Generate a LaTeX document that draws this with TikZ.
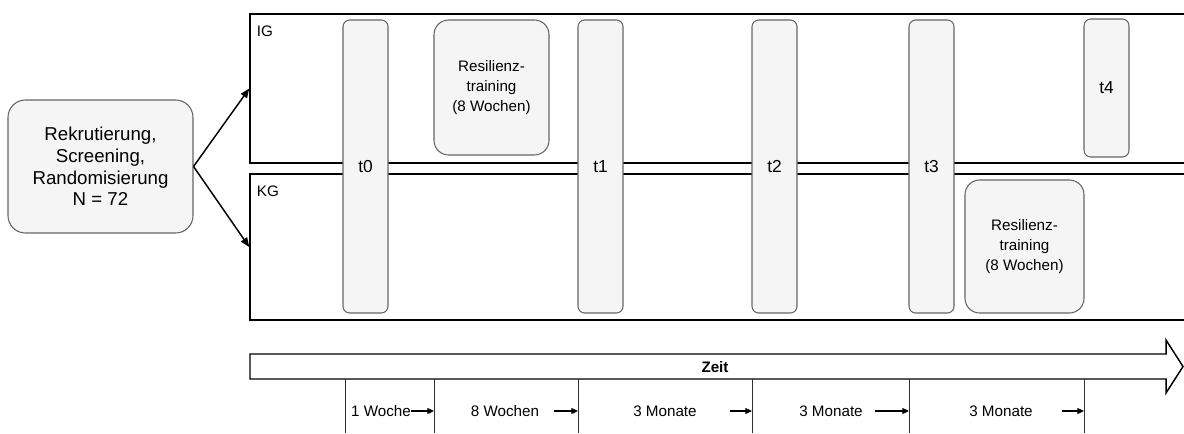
\documentclass[tikz,border=0pt]{standalone}
\usepackage{fontspec}
\setmainfont{Liberation Sans}
\usetikzlibrary{positioning, arrows.meta, calc}
\usepackage{xcolor}
\definecolor{boxfill}{HTML}{F5F5F5}
\definecolor{boxline}{HTML}{666666}

\begin{document}
\begin{tikzpicture}[x=0.75pt, y=-0.75pt,
    grp/.style={draw, line width=1.1pt, minimum width=705pt, inner sep=0pt},
    grplbl/.style={font=\fontsize{11.4}{14}\selectfont, inner sep=0pt, anchor=north west},
    mess/.style={draw=boxline, fill=boxfill, line width=0.8pt, rounded corners=5pt,
                 minimum width=33.75pt, inner sep=0pt, font=\fontsize{13}{15}\selectfont},
    train/.style={draw=boxline, fill=boxfill, line width=0.8pt, rounded corners=11pt,
                  align=center, inner sep=0pt, font=\fontsize{11.4}{15}\selectfont},
    period/.style={font=\fontsize{11.4}{14}\selectfont, inner sep=1pt},
    tick/.style={draw=black!80, line width=0.6pt},
    tip/.style={-{Triangle[length=5pt,width=4.5pt]}, line width=0.8pt}]
  \useasboundingbox (0,0) rectangle (1184,433);

  % start
  \node[draw=boxline, fill=boxfill, line width=0.8pt, rounded corners=13pt,
        minimum width=138.75pt, minimum height=99.75pt, align=center,
        font=\fontsize{14}{16.3}\selectfont] (start) at (100.5,166.5)
    {Rekrutierung,\\Screening,\\Randomisierung\\N = 72};

  % groups
  \node[grp, minimum height=111.75pt] (ig) at (720,88.5) {};
  \node[grp, minimum height=109.5pt] (kg) at (720,247) {};
  \node[grplbl] (iglbl) at ([shift={(5.5pt,-9.5pt)}]ig.north west) {IG};
  \node[grplbl] (kglbl) at ([shift={(5.5pt,-9.5pt)}]kg.north west) {KG};

  \draw[-{Triangle[length=7pt,width=5.5pt]}, line width=1.1pt] (start.east) -- (ig.west);
  \draw[-{Triangle[length=7pt,width=5.5pt]}, line width=1.1pt] (start.east) -- (kg.west);

  % measurements
  \node[mess, minimum height=219.75pt] (t0) at (365.5,166.5) {t0};
  \node[mess, minimum height=219.75pt] (t1) at (600.5,166.5) {t1};
  \node[mess, minimum height=219.75pt] (t2) at (774.5,166.5) {t2};
  \node[mess, minimum height=219.75pt] (t3) at (931.5,166.5) {t3};
  \node[mess, minimum height=103.5pt] (t4) at (1106.5,88) {t4};

  % training
  \node[train, minimum width=86.25pt, minimum height=101.25pt] (resig) at (491.5,87.5)
    {Resilienz-\\training\\(8 Wochen)};
  \node[train, minimum width=89.25pt, minimum height=99.75pt] (reskg) at (1024.5,246.5)
    {Resilienz-\\training\\(8 Wochen)};

  % time axis
  \draw[line width=1.1pt, fill=white] (250,354) -- (1166,354) -- (1166,340) -- (1183,366.5)
    -- (1166,393) -- (1166,379) -- (250,379) -- cycle;
  \node[font=\bfseries\fontsize{11.4}{14}\selectfont] (zeit) at (715,367) {Zeit};

  \coordinate (k0) at (345,379);
  \coordinate (k1) at (434,379);
  \coordinate (k2) at (578,379);
  \coordinate (k3) at (752,379);
  \coordinate (k4) at (909,379);
  \coordinate (k5) at (1084,379);
  \draw[tick] (k0) -- ++(0,54);
  \draw[tick] (k1) -- ++(0,54);
  \draw[tick] (k2) -- ++(0,54);
  \draw[tick] (k3) -- ++(0,54);
  \draw[tick] (k4) -- ++(0,54);
  \draw[tick] (k5) -- ++(0,54);

  \node[period] (p1) at (381,411) {1 Woche};
  \node[period] (p2) at (505,411) {8 Wochen};
  \node[period] (p3) at (665,411) {3 Monate};
  \node[period] (p4) at (831,411) {3 Monate};
  \node[period] (p5) at (1001,411) {3 Monate};

  \draw[tip] ($(k1)+(-23,32)$) -- ($(k1)+(0,32)$);
  \draw[tip] ($(k2)+(-24,32)$) -- ($(k2)+(0,32)$);
  \draw[tip] ($(k3)+(-22,32)$) -- ($(k3)+(0,32)$);
  \draw[tip] ($(k4)+(-34,32)$) -- ($(k4)+(0,32)$);
  \draw[tip] ($(k5)+(-22,32)$) -- ($(k5)+(0,32)$);
\end{tikzpicture}
\end{document}
